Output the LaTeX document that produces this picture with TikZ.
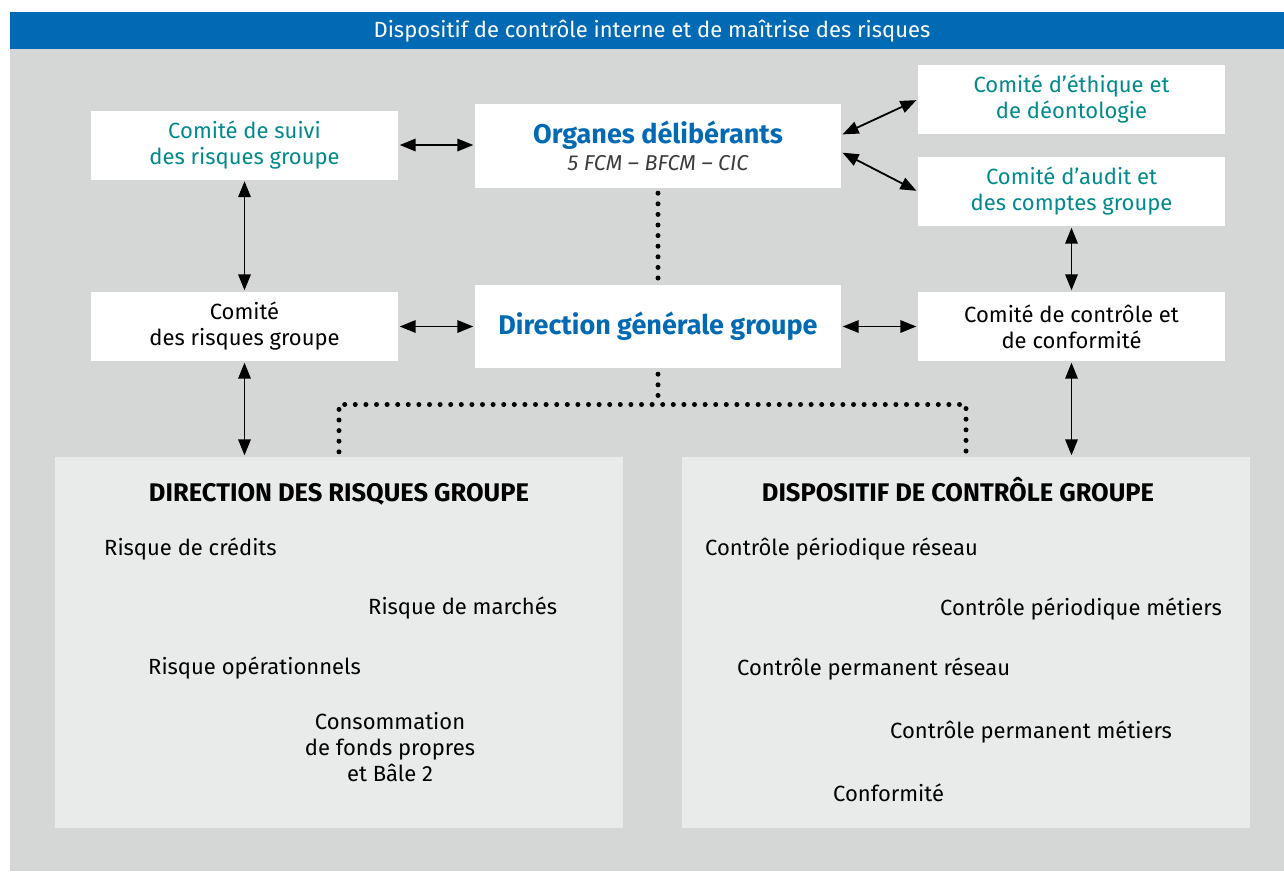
\documentclass[tikz,border=0pt]{standalone}
\usepackage{fontspec}
\setmainfont{Fira Sans}
\usepackage{tikz}
\usetikzlibrary{arrows.meta,positioning}

\definecolor{bandblue}{RGB}{0,106,180}
\definecolor{bggray}{RGB}{213,214,214}
\definecolor{boxgray}{RGB}{233,234,234}
\definecolor{comteal}{RGB}{0,138,140}
\definecolor{subgray}{RGB}{60,60,60}

\tikzset{
	whitebox/.style={fill=white, inner sep=0pt, align=center, minimum width=307pt, minimum height=69pt, font=\fontsize{22}{26}\selectfont},
	bigbox/.style={fill=boxgray, inner sep=0pt, minimum width=568pt, minimum height=371pt},
	head/.style={anchor=base, inner sep=0pt, font=\fontsize{25.5}{28}\selectfont\bfseries},
	item/.style={anchor=base west, inner sep=0pt, font=\fontsize{22}{26}\selectfont},
	link/.style={{Triangle[length=16pt,width=12.5pt]}-{Triangle[length=16pt,width=12.5pt]}, line width=1.8pt, shorten >=1.5pt, shorten <=1.5pt},
	dotline/.style={line width=5pt, line cap=round, dash pattern=on 0pt off 10.6pt},
}

\begin{document}
\begin{tikzpicture}[x=1pt,y=-1pt]
	\useasboundingbox (0,0) rectangle (1284,871);
	% background and title band
	\fill[bggray] (10,49) rectangle (1284,871);
	\fill[bandblue] (10,12) rectangle (1284,49);
	\node[text=white, inner sep=0pt, font=\fontsize{22}{24}\selectfont] (title) at (652,31) {Dispositif de contrôle interne et de maîtrise des risques};

	% committees
	\node[whitebox, text=comteal] (suivi) at (244.5,145) {Comité de suivi\\des risques groupe};
	\node[whitebox, minimum width=366pt, minimum height=84pt] (organes) at (658,146)
		{{\fontsize{27}{30}\selectfont\bfseries\color{bandblue}Organes délibérants}\\[1pt]{\fontsize{21.5}{26}\selectfont\itshape\color{subgray}5 FCM -- BFCM -- CIC}};
	\node[whitebox, text=comteal] (ethique) at (1071.5,99.5) {Comité d’éthique et\\de déontologie};
	\node[whitebox, text=comteal] (audit) at (1071.5,191.5) {Comité d’audit et\\des comptes groupe};
	\node[whitebox] (risques) at (244.5,326.5) {Comité\\des risques groupe};
	\node[whitebox, minimum width=366pt, minimum height=83pt, text=bandblue, font=\fontsize{27}{30}\selectfont\bfseries] (dirgen) at (658,326.5) {Direction générale groupe};
	\node[whitebox] (controle) at (1071.5,326.5) {Comité de contrôle et\\de conformité};

	% lower blocks
	\node[bigbox] (drg) at (339,642.5) {};
	\node[bigbox] (dcg) at (966,642.5) {};

	\node[head] (drghead) at (339,501) {DIRECTION DES RISQUES GROUPE};
	\node[item] (credits) at (104,555) {Risque de crédits};
	\node[item] (marches) at (368,614) {Risque de marchés};
	\node[item] (operat) at (148,674) {Risque opérationnels};
	\node[item, anchor=north, align=center] (fonds) at (390,712) {Consommation\\de fonds propres\\et Bâle 2};

	\node[head] (dcghead) at (958,501) {DISPOSITIF DE CONTRÔLE GROUPE};
	\node[item] (perres) at (705,555) {Contrôle périodique réseau};
	\node[item] (permet) at (940,615) {Contrôle périodique métiers};
	\node[item] (pmtres) at (737,675) {Contrôle permanent réseau};
	\node[item] (pmtmet) at (890,738) {Contrôle permanent métiers};
	\node[item] (conf) at (833,801) {Conformité};

	% arrows
	\draw[link] (suivi.east) -- (suivi.east -| organes.west);
	\draw[link] ([yshift=11pt]organes.east) -- (ethique.west);
	\draw[link] ([yshift=-6pt]organes.east) -- (audit.west);
	\draw[link] (suivi) -- (risques);
	\draw[link] (risques) -- (dirgen);
	\draw[link] (dirgen) -- (controle);
	\draw[link] (audit) -- (controle);
	\draw[link] (risques.south) -- (risques.south |- drg.north);
	\draw[link] (controle.south) -- (controle.south |- dcg.north);

	% dotted links
	\coordinate (split) at (658,404.5);
	\draw[dotline, shorten <=5pt, shorten >=5pt] (organes.south) -- (dirgen.north);
	\draw[dotline, shorten <=6pt] (dirgen.south) -- (split);
	\draw[dotline, shorten <=5pt, shorten >=5pt] (drg.north) |- (split) -| (dcg.north);
\end{tikzpicture}
\end{document}
